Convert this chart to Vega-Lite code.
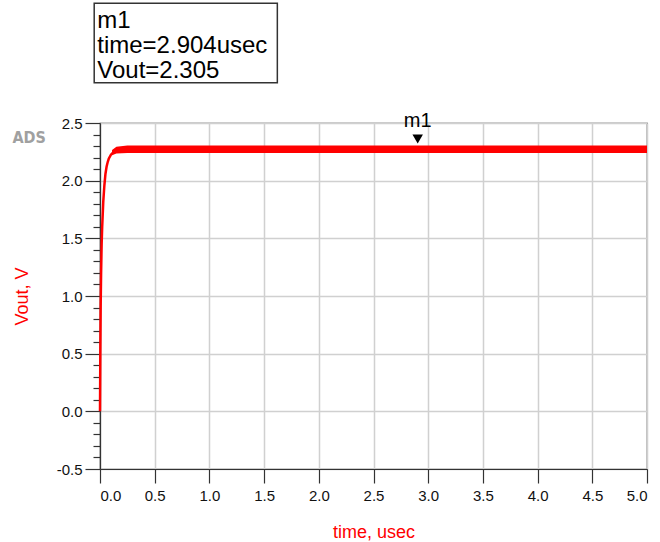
{
  "$schema": "https://vega.github.io/schema/vega-lite/v6.json",
  "autosize": {"type": "none"},
  "width": 547,
  "height": 346,
  "padding": {"left": 100, "top": 123, "right": 13, "bottom": 73},
  "background": "white",
  "config": {
    "view": {"stroke": "#333333", "strokeWidth": 1.2},
    "font": "Liberation Sans",
    "axis": {
      "labelFont": "Liberation Sans",
      "titleFont": "Liberation Sans",
      "labelColor": "#111111",
      "labelFontSize": 15,
      "titleFontSize": 18,
      "titleFontWeight": "normal",
      "titleColor": "#ff0000",
      "domainColor": "#333333",
      "domainWidth": 1.2,
      "tickColor": "#333333",
      "tickWidth": 1.2,
      "gridColor": "#d0d0d0",
      "gridWidth": 1.5
    }
  },
  "datasets": {
    "rise": [
      {"t": 0.0, "v": 0.0},
      {"t": 0.003, "v": 0.5},
      {"t": 0.006, "v": 0.9},
      {"t": 0.01, "v": 1.2},
      {"t": 0.015, "v": 1.45},
      {"t": 0.02, "v": 1.6},
      {"t": 0.03, "v": 1.82},
      {"t": 0.04, "v": 1.96},
      {"t": 0.05, "v": 2.06},
      {"t": 0.06, "v": 2.12},
      {"t": 0.07, "v": 2.16},
      {"t": 0.08, "v": 2.19},
      {"t": 0.1, "v": 2.225},
      {"t": 0.12, "v": 2.245},
      {"t": 0.15, "v": 2.262},
      {"t": 0.2, "v": 2.272}
    ],
    "band": [
      {"t": 0.11, "lo": 2.22, "hi": 2.265},
      {"t": 0.15, "lo": 2.235, "hi": 2.295},
      {"t": 0.25, "lo": 2.24, "hi": 2.305},
      {"t": 5.0, "lo": 2.24, "hi": 2.305}
    ],
    "box": [
      {"t1": -0.053, "t2": 1.621, "v1": 2.849, "v2": 3.538}
    ],
    "boxtext": [
      {"t": -0.025, "v": 3.3237, "label": "m1"},
      {"t": -0.025, "v": 3.107, "label": "time=2.904usec"},
      {"t": -0.025, "v": 2.89, "label": "Vout=2.305"}
    ],
    "marker": [
      {"t": 2.904, "v": 2.361, "tv": 2.462, "label": "m1"}
    ],
    "logo": [
      {"t": -0.8, "v": 2.327, "label": "ADS"}
    ]
  },
  "layer": [
    {
      "data": {"name": "band"},
      "mark": {"type": "area", "color": "#ff0000", "opacity": 1},
      "encoding": {
        "x": {
          "field": "t", "type": "quantitative",
          "scale": {"domain": [0, 5], "nice": false, "zero": false},
          "axis": {
            "title": "time, usec",
            "values": [0, 0.5, 1, 1.5, 2, 2.5, 3, 3.5, 4, 4.5, 5],
            "tickCount": 50,
            "format": ".1f",
            "tickSize": 14,
            "labelPadding": 5,
            "titlePadding": 20,
            "grid": true
          }
        },
        "y": {
          "field": "lo", "type": "quantitative",
          "scale": {"domain": [-0.5, 2.5], "nice": false, "zero": false},
          "axis": {
            "title": "Vout, V",
            "values": [-0.5, -0.4, -0.3, -0.2, -0.1, 0, 0.1, 0.2, 0.3, 0.4, 0.5, 0.6, 0.7, 0.8, 0.9, 1.0, 1.1, 1.2, 1.3, 1.4, 1.5, 1.6, 1.7, 1.8, 1.9, 2.0, 2.1, 2.2, 2.3, 2.4, 2.5],
            "tickCount": 100,
            "labelExpr": "abs(datum.value*2 - round(datum.value*2)) < 0.001 ? (datum.value < 0 ? '-' + format(-datum.value, '.1f') : format(datum.value, '.1f')) : ''",
            "labelOverlap": false,
            "tickSize": {"condition": {"test": "abs(datum.value*2 - round(datum.value*2)) < 0.001", "value": 15}, "value": 7},
            "gridOpacity": {"condition": {"test": "abs(datum.value*2 - round(datum.value*2)) < 0.001", "value": 1}, "value": 0},
            "labelPadding": 3,
            "titlePadding": 25,
            "grid": true
          }
        },
        "y2": {"field": "hi"}
      }
    },
    {
      "data": {"name": "rise"},
      "mark": {"type": "line", "color": "#ff0000", "strokeWidth": 2.5},
      "encoding": {
        "x": {"field": "t", "type": "quantitative"},
        "y": {"field": "v", "type": "quantitative"}
      }
    },
    {
      "data": {"name": "box"},
      "mark": {"type": "rect", "fill": "white", "stroke": "#333333", "strokeWidth": 1.5},
      "encoding": {
        "x": {"field": "t1", "type": "quantitative"},
        "x2": {"field": "t2"},
        "y": {"field": "v1", "type": "quantitative"},
        "y2": {"field": "v2"}
      }
    },
    {
      "data": {"name": "boxtext"},
      "mark": {"type": "text", "align": "left", "baseline": "alphabetic", "fontSize": 24, "font": "Liberation Sans", "color": "#000000"},
      "encoding": {
        "x": {"field": "t", "type": "quantitative"},
        "y": {"field": "v", "type": "quantitative"},
        "text": {"field": "label"}
      }
    },
    {
      "data": {"name": "marker"},
      "mark": {"type": "point", "shape": "triangle-down", "filled": true, "color": "#000000", "size": 110, "opacity": 1},
      "encoding": {
        "x": {"field": "t", "type": "quantitative"},
        "y": {"field": "v", "type": "quantitative"}
      }
    },
    {
      "data": {"name": "marker"},
      "mark": {"type": "text", "align": "center", "baseline": "alphabetic", "fontSize": 20, "font": "Liberation Sans", "color": "#000000"},
      "encoding": {
        "x": {"field": "t", "type": "quantitative"},
        "y": {"field": "tv", "type": "quantitative"},
        "text": {"field": "label"}
      }
    },
    {
      "data": {"name": "logo"},
      "mark": {"type": "text", "align": "left", "baseline": "alphabetic", "fontSize": 16, "font": "DejaVu Sans Condensed", "fontWeight": "bold", "color": "#a0a0a0"},
      "encoding": {
        "x": {"field": "t", "type": "quantitative"},
        "y": {"field": "v", "type": "quantitative"},
        "text": {"field": "label"}
      }
    }
  ]
}
